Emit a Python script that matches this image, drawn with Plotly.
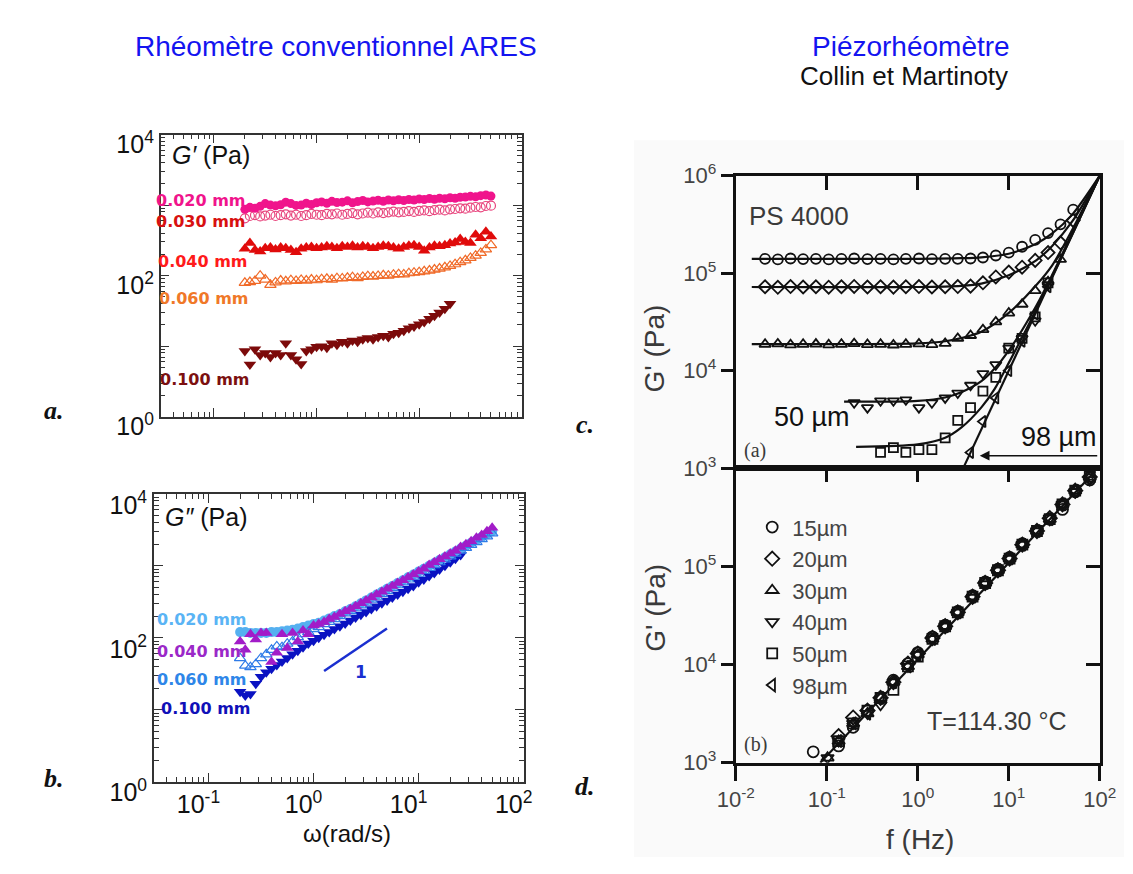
import plotly.graph_objects as go

W, H = 1133, 874


def px(x):
    return x / W


def py(y):
    return 1 - y / H


# ---------------- data : ARES conventional rheometer ----------------
omega = [0.200, 0.224, 0.251, 0.282, 0.316, 0.355, 0.398, 0.447, 0.501, 0.562,
         0.631, 0.708, 0.794, 0.891, 1.00, 1.12, 1.26, 1.41, 1.58, 1.78,
         2.00, 2.24, 2.51, 2.82, 3.16, 3.55, 3.98, 4.47, 5.01, 5.62,
         6.31, 7.08, 7.94, 8.91, 10.0, 11.2, 12.6, 14.1, 15.8, 17.8,
         20.0, 22.4, 25.1, 28.2, 31.6, 35.5, 39.8, 44.7, 50.1]

# G' (Pa), panel a
gp_020 = [870, 930, 900, 960, 1050, 1000, 980, 1010, 1100, 1050, 990, 1000, 1060, 1020, 1080,
          1110, 1060, 1130, 1090, 1100, 1150, 1080, 1120, 1160, 1110, 1140, 1170, 1130, 1180,
          1150, 1190, 1160, 1200, 1180, 1220, 1200, 1240, 1210, 1250, 1230, 1270, 1250, 1290,
          1300, 1330, 1310, 1360, 1390, 1340]
gp_030 = [650, 700, 720, 690, 710, 730, 700, 720, 740, 710, 730, 700, 720, 750, 730, 720, 750,
          740, 760, 730, 750, 770, 740, 760, 780, 760, 790, 770, 790, 810, 790, 800, 820, 800,
          830, 840, 820, 850, 860, 840, 870, 880, 900, 890, 920, 940, 930, 970, 980]
gp_040 = [240, 290, 230, 220, 245, 250, 235, 250, 245, 230, 215, 240, 250, 255, 245, 250, 260,
          255, 245, 260, 255, 265, 250, 260, 255, 245, 255, 265, 260, 250, 240, 255, 265, 270,
          255, 225, 250, 265, 260, 270, 285, 295, 330, 300, 290, 380, 340, 420, 360]
gp_060 = [79, 81, 84, 100, 88, 74, 80, 85, 83, 86, 84, 87, 85, 88, 86, 89, 90, 88, 92, 91, 93,
          95, 92, 96, 98, 97, 99, 101, 100, 103, 105, 104, 108, 110, 112, 115, 118, 122, 126,
          131, 137, 145, 155, 165, 178, 192, 210, 235, 270]
gp_100 = [8.5, 5.5, 9.0, 7.5, 8.0, 7.0, 8.0, 7.5, 11, 7.5, 6.5, 5.6, 8.5, 9.0, 9.8, 10, 9.5, 11,
          10.5, 11.5, 11, 12, 11.5, 12.5, 13, 12.5, 13.5, 14, 13.5, 15, 15.5, 16.5, 18, 19, 20.5,
          22, 24.5, 27, 30, 34, 40]

# G'' (Pa), panel b
gpp_020 = [120, 120, 117, 117, 117, 117, 120, 120, 123, 126, 129, 135, 141, 148, 155, 162, 174,
           186, 200, 214, 234, 251, 275, 302, 331, 363, 398, 437, 479, 525, 575, 631, 692, 759,
           832, 912, 1000, 1096, 1202, 1318, 1445, 1585, 1738, 1905, 2089, 2291, 2512, 2754, 3020]
gpp_040 = [89, 68, 112, 95, 117, 117, 46, 62, 112, 72, 117, 89, 126, 112, 148, 155, 166, 182,
           195, 214, 234, 251, 275, 302, 331, 363, 398, 437, 479, 525, 575, 631, 692, 759, 832,
           912, 1023, 1122, 1230, 1349, 1479, 1622, 1820, 1995, 2188, 2455, 2692, 3020, 3388]
gpp_060 = [52, 41, 39, 43, 52, 59, 68, 76, 74, 83, 89, 102, 112, 120, 132, 141, 155, 166, 182,
           200, 219, 234, 257, 282, 309, 339, 372, 407, 447, 490, 537, 589, 646, 708, 776, 851,
           933, 1023, 1122, 1230, 1349, 1479, 1622, 1778, 1950, 2138, 2344, 2570, 2818]
gpp_100 = [17.8, 15.8, 16.6, 22.9, 28.8, 33.1, 37.2, 41.7, 46.8, 52.5, 58.9, 66.1, 74.1, 83.2,
           91.2, 100, 110, 120, 132, 145, 158, 174, 191, 209, 229, 251, 275, 302, 331, 363, 398,
           437, 479, 525, 589, 646, 724, 794, 891, 1000, 1122, 1259, 1413]

slope_w = [1.26, 5.0]
slope_g = [34.5, 135]

# ---------------- data : piezorheometer (Collin & Martinoty) ----------------
fc = [0.021, 0.029, 0.040, 0.055, 0.076, 0.105, 0.145, 0.20, 0.28, 0.39, 0.54, 0.74, 1.03,
      1.43, 2.0, 2.75, 3.8, 5.2, 7.2, 10.0, 14.0, 19.5, 27, 37, 51]
c15 = [140000, 138000, 141000, 139000, 140000, 138000, 140000, 141000, 139000, 140000, 138000,
       140000, 141000, 139000, 140000, 140000, 141000, 144500, 151400, 162200, 186200, 218800,
       257000, 316200, 446700]
c20 = [72400, 71500, 72800, 72000, 72400, 71600, 72400, 73000, 72000, 72400, 71800, 72400,
       72800, 72000, 72400, 72800, 73500, 79400, 91200, 102300, 114800, 134900, 162200, 204200,
       346700]
c30 = [18600, 18800, 18400, 18600, 18700, 18400, 18600, 18900, 18500, 18600, 18300, 18600,
       18800, 18500, 19000, 21400, 22900, 26300, 31600, 38900, 47900, 66100, 81300, 138000]
c40 = [4680, 4170, 4900, 4900, 5010, 4170, 4680, 5250, 5890, 7080, 9330, 11500, 17000, 21400,
       32400, 75900]
c50 = [1450, 1620, 1450, 1550, 1550, 2040, 3090, 4170, 6170, 8510, 17000, 21400, 35500, 79400]
c98 = [1450, 3000, 5250, 10000, 20000, 38000, 72400]

fit15_f = [0.015, 1, 3, 5, 10, 20, 30, 50, 100]
fit15_g = [1.4e5, 1.4e5, 1.42e5, 1.45e5, 1.58e5, 2.0e5, 2.55e5, 4.0e5, 1.0e6]
fit20_f = [0.015, 1, 3, 5, 10, 20, 30, 50, 100]
fit20_g = [7.2e4, 7.2e4, 7.4e4, 7.8e4, 9.5e4, 1.35e5, 1.9e5, 3.4e5, 1.0e6]
fit30_f = [0.015, 1, 2, 3, 5, 10, 20, 30, 50, 100]
fit30_g = [1.87e4, 1.9e4, 2.0e4, 2.15e4, 2.5e4, 3.9e4, 7.5e4, 1.2e5, 2.8e5, 1.0e6]
fit40_f = [0.155, 1, 2, 3, 5, 7, 10, 20, 30, 50, 100]
fit40_g = [4.8e3, 4.9e3, 5.3e3, 6.0e3, 7.8e3, 1.05e4, 1.6e4, 4.6e4, 9.6e4, 2.6e5, 1.0e6]
fit50_f = [0.21, 1, 2, 3, 5, 7, 10, 20, 30, 50, 100]
fit50_g = [1.65e3, 1.75e3, 2.05e3, 2.6e3, 4.2e3, 6.5e3, 1.2e4, 4.2e4, 9.2e4, 2.5e5, 1.0e6]
fit98_f = [3.16, 100]
fit98_g = [1.0e3, 1.0e6]

fd = [0.071, 0.102, 0.135, 0.195, 0.28, 0.39, 0.54, 0.78, 1.0, 1.45, 2.0, 2.75, 4.0, 5.5, 7.6,
      10.2, 14.1, 20.4, 28.2, 38.9, 53.7, 77.6]
d15 = [1290, None, 1480, 2290, 3390, 4570, 6920, 10200, 13200, 19100, 25100, 34700, 50100,
       69200, 93300, 123000, 170000, 229000, 302000, 380000, 575000, 759000]
d20 = [None, None, 1860, 2880, 3390, 4570, 6610, 10200, 12900, 18600, 24500, 34000, 49000,
       67600, 91200, 120000, 166000, 229000, 309000, 427000, 589000, 813000]
d30 = [None, 1120, 1660, 2510, 3160, 4570, 6610, 9550, 12600, 18200, 24500, 33900, 49000,
       67600, 91200, 120000, 166000, 229000, 302000, 427000, 589000, 813000]
d40 = [None, 1120, 1660, 2510, 3160, 3890, 6610, 9550, 12600, 18200, 24500, 33900, 48000,
       66000, 91200, 120000, 166000, 229000, 309000, 427000, 575000, 759000]
d50 = [None, None, 1660, 2510, 3390, 4570, 5500, 9550, 12000, 18200, 24500, 33900, 49000,
       67600, 91200, 120000, 166000, 229000, 302000, 427000, 589000, 813000]
d98 = [None, None, 1660, 2510, 3160, 4570, 6610, 9550, 12600, 18200, 24500, 33900, 49000,
       67600, 91200, 120000, 166000, 229000, 302000, 427000, 589000, 813000]
dfit_f = [0.085, 89]
dfit_g = [1000, 9.3e5]

# ---------------- figure ----------------
fig = go.Figure()


def sc(x, y, ax, symbol, color, size, lw=1.2, name=None, legend=False):
    is_open = symbol.endswith("-open")
    fig.add_trace(go.Scatter(
        x=x, y=y, xaxis=ax[0], yaxis=ax[1], mode="markers", name=name, showlegend=legend,
        marker=dict(symbol=symbol, size=size, color=color,
                    line=dict(color=color, width=lw if is_open else 0)),
        hoverinfo="x+y"))


def ln(x, y, ax, color="#111", width=2.2, shape="spline"):
    fig.add_trace(go.Scatter(x=x, y=y, xaxis=ax[0], yaxis=ax[1], mode="lines",
                             line=dict(color=color, width=width, shape=shape, smoothing=0.8),
                             showlegend=False, hoverinfo="skip"))


A = ("x", "y")
B = ("x2", "y2")
C = ("x3", "y3")
D = ("x4", "y4")

# panel a
sc(omega[:41], gp_100, A, "triangle-down", "#7C0A0A", 11)
sc(omega, gp_060, A, "triangle-up-open", "#F06A28", 10)
sc(omega, gp_040, A, "triangle-up", "#E00B0B", 11)
sc(omega, gp_030, A, "circle-open", "#E8457D", 9)
sc(omega, gp_020, A, "circle", "#F0148C", 9)

# panel b
sc(omega[:43], gpp_100, B, "triangle-down", "#0A12C2", 11)
sc(omega, gpp_020, B, "circle", "#55B0F0", 10)
sc(omega, gpp_060, B, "triangle-up-open", "#2F7BE8", 10)
sc(omega, gpp_040, B, "triangle-up", "#A21CC8", 11)
ln(slope_w, slope_g, B, color="#1A2FD0", width=2.5, shape="linear")

# panel c
for ff, gg in [(fit15_f, fit15_g), (fit20_f, fit20_g), (fit30_f, fit30_g),
               (fit40_f, fit40_g), (fit50_f, fit50_g), (fit98_f, fit98_g)]:
    ln(ff, gg, C)
sc(fc, c15, C, "circle-open", "#111", 10, lw=1.8)
sc(fc, c20, C, "diamond-open", "#111", 10, lw=1.8)
sc(fc[:24], c30, C, "triangle-up-open", "#111", 10, lw=1.8)
sc(fc[7:23], c40, C, "triangle-down-open", "#111", 10, lw=1.8)
sc(fc[9:23], c50, C, "square-open", "#111", 9, lw=1.8)
sc(fc[16:23], c98, C, "triangle-left-open", "#111", 10, lw=1.8)

# panel d
ln(dfit_f, dfit_g, D, shape="linear")
sc(fd, d15, D, "circle-open", "#111", 11, lw=1.8, name="15µm", legend=True)
sc(fd, d20, D, "diamond-open", "#111", 11, lw=1.8, name="20µm", legend=True)
sc(fd, d30, D, "triangle-up-open", "#111", 11, lw=1.8, name="30µm", legend=True)
sc(fd, d40, D, "triangle-down-open", "#111", 11, lw=1.8, name="40µm", legend=True)
sc(fd, d50, D, "square-open", "#111", 10, lw=1.8, name="50µm", legend=True)
sc(fd, d98, D, "triangle-left-open", "#111", 11, lw=1.8, name="98µm", legend=True)

# empty traces so the overlay tick axes exist
for xa, ya in [("x3", "y5"), ("x5", "y4"), ("x4", "y6")]:
    fig.add_trace(go.Scatter(x=[], y=[], xaxis=xa, yaxis=ya, showlegend=False))


def sup(e):
    return "10<sup>%s</sup>" % e


left_font = dict(family="Liberation Sans, Arial", size=25, color="#111")
left_common = dict(type="log", showline=True, linecolor="#333", linewidth=1.5, mirror="ticks",
                   ticks="inside", ticklen=9, tickwidth=1.2, tickcolor="#333", showgrid=False,
                   zeroline=False, tickfont=left_font,
                   minor=dict(ticks="inside", ticklen=5, tickwidth=1, tickcolor="#333",
                              dtick="D1", showgrid=False))
yvals_left = [1, 10, 100, 1000, 10000]
ytext_left = [sup(0), "", sup(2), "", sup(4)]
xvals_left = [0.1, 1, 10, 100]
xtext_left = [sup(-1), sup(0), sup(1), sup(2)]

right_font = dict(family="Liberation Sans, Arial", size=22, color="#444")
right_common = dict(type="log", showline=True, linecolor="#111", linewidth=3, showgrid=False,
                    zeroline=False, tickwidth=3, tickcolor="#111", tickfont=right_font)
xvals_right = [0.01, 0.1, 1, 10, 100]
xtext_right = [sup(-2), sup(-1), sup(0), sup(1), sup(2)]

fig.update_layout(
    width=W, height=H, margin=dict(l=0, r=0, t=0, b=0),
    paper_bgcolor="white", plot_bgcolor="rgba(0,0,0,0)",
    font=dict(family="Liberation Sans, Arial", color="#111"),
    xaxis=dict(domain=[px(138), px(511)], anchor="y", range=[-1.52, 2], tickvals=xvals_left,
               showticklabels=False, **left_common),
    yaxis=dict(domain=[py(412), py(116)], anchor="x", range=[0, 4], tickvals=yvals_left,
               ticktext=ytext_left, ticklabelshift=10, **left_common),
    xaxis2=dict(domain=[px(131), px(513)], anchor="y2", range=[-1.52, 2], tickvals=xvals_left,
                ticktext=xtext_left, ticklabelshift=-10, **left_common),
    yaxis2=dict(domain=[py(795), py(493)], anchor="x2", range=[0, 4], tickvals=yvals_left,
                ticktext=ytext_left, ticklabelshift=11, **left_common),
    xaxis3=dict(domain=[px(732), px(1108)], anchor="y3", side="top", range=[-2, 2],
                tickvals=[0.1, 1, 10], showticklabels=False, ticks="inside", ticklen=14,
                mirror=True, **right_common),
    yaxis3=dict(domain=[py(466), py(159)], anchor="x3", range=[3, 6],
                tickvals=[1e3, 1e4, 1e5, 1e6], ticktext=[sup(3), sup(4), sup(5), sup(6)],
                ticks="outside", ticklen=12, mirror=True, **right_common),
    yaxis5=dict(overlaying="y3", anchor="x3", side="right", range=[3, 6], tickvals=[1e4, 1e5],
                showticklabels=False, ticks="inside", ticklen=14, type="log", showline=False,
                showgrid=False, zeroline=False, tickwidth=3, tickcolor="#111"),
    xaxis4=dict(domain=[px(732), px(1108)], anchor="y4", range=[-2, 2], tickvals=xvals_right,
                ticktext=xtext_right, ticks="outside", ticklen=15, mirror=True, **right_common),
    yaxis4=dict(domain=[py(775), py(466)], anchor="x4", range=[3, 6],
                tickvals=[1e3, 1e4, 1e5], ticktext=[sup(3), sup(4), sup(5)],
                ticks="outside", ticklen=12, mirror=True, **right_common),
    xaxis5=dict(overlaying="x4", anchor="y4", side="top", range=[-2, 2], tickvals=[0.1, 1, 10],
                showticklabels=False, ticks="inside", ticklen=14, type="log", showline=False,
                showgrid=False, zeroline=False, tickwidth=3, tickcolor="#111"),
    yaxis6=dict(overlaying="y4", anchor="x4", side="right", range=[3, 6], tickvals=[1e4, 1e5],
                showticklabels=False, ticks="inside", ticklen=14, type="log", showline=False,
                showgrid=False, zeroline=False, tickwidth=3, tickcolor="#111"),
    legend=dict(x=px(749), y=py(506), xanchor="left", yanchor="top",
                bgcolor="rgba(0,0,0,0)", borderwidth=0, tracegroupgap=0, itemwidth=30,
                font=dict(family="Liberation Sans, Arial", size=22, color="#444")),
    showlegend=True,
)

# faint grey background of the scanned right-hand figure
fig.add_shape(type="rect", xref="paper", yref="paper", x0=px(627), x1=1, y0=0, y1=py(122),
              fillcolor="#FAFAFA", line=dict(width=0), layer="below")

ann = []


def text(x, y, s, size, color="#111", family="Liberation Sans, Arial", xanchor="center",
         angle=0):
    ann.append(dict(x=px(x), y=py(y), xref="paper", yref="paper", text=s, showarrow=False,
                    xanchor=xanchor, yanchor="middle", textangle=angle,
                    font=dict(size=size, color=color, family=family)))


# titles
text(319, 24, "Rhéomètre conventionnel ARES", 28, color="#1414F0")
text(913, 24, "Piézorhéomètre", 28, color="#1414F0")
text(906, 55, "Collin et Martinoty", 26, color="#111")

# panel letters
serif = "Liberation Serif, Times New Roman"
text(28, 405, "<b><i>a.</i></b>", 26, family=serif)
text(28, 792, "<b><i>b.</i></b>", 26, family=serif)
text(576, 420, "<b><i>c.</i></b>", 26, family=serif)
text(576, 800, "<b><i>d.</i></b>", 26, family=serif)

# panel a/b texts
text(148, 137, "<i>G′</i> (Pa)", 25, xanchor="left")
text(140, 517, "<i>G″</i> (Pa)", 25, xanchor="left")
lab = "DejaVu Sans"
text(180, 185, "<b>0.020 mm</b>", 16, color="#F0148C", family=lab)
text(180, 207, "<b>0.030 mm</b>", 16, color="#D81010", family=lab)
text(182, 249, "<b>0.040 mm</b>", 16, color="#FF1A1A", family=lab)
text(183, 288, "<b>0.060 mm</b>", 16, color="#F07828", family=lab)
text(184, 373, "<b>0.100 mm</b>", 16, color="#7C1010", family=lab)
text(181, 625, "<b>0.020 mm</b>", 16, color="#5AB4F5", family=lab)
text(181, 658, "<b>0.040 mm</b>", 16, color="#9B28C8", family=lab)
text(181, 688, "<b>0.060 mm</b>", 16, color="#2E86E8", family=lab)
text(185, 718, "<b>0.100 mm</b>", 16, color="#1010B8", family=lab)
text(345, 680, "<b>1</b>", 17, color="#1A2FD0", family=lab)
text(330, 849, "ω(rad/s)", 24)

# panel c/d texts
grey = "#3A3A3A"
text(797, 201, "PS 4000", 26, color=grey)
text(811, 412, "50 µm", 27)
text(1066, 433, "98 µm", 27)
text(752, 447, "(a)", 20, color=grey, family=serif)
text(752, 756, "(b)", 20, color=grey, family=serif)
text(1001, 731, "T=114.30 °C", 25, color=grey)
text(922, 856, "f (Hz)", 28, color=grey)
text(648, 340, "G' (Pa)", 28, color=grey, angle=-90)
text(649, 612, "G' (Pa)", 28, color=grey, angle=-90)

ann.append(dict(x=px(984), y=py(453), xref="paper", yref="paper", ax=119, ay=0,
                showarrow=True, arrowhead=2, arrowsize=1.3, arrowwidth=1.5, arrowcolor="#111",
                text=""))

fig.update_layout(annotations=ann)

fig.write_html("out.html")
